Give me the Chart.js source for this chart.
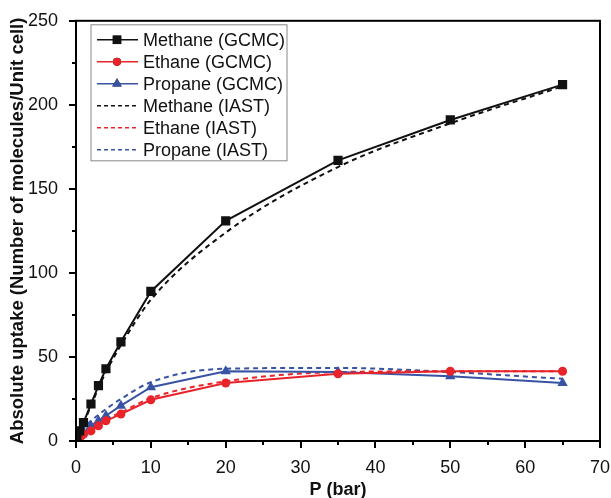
<!DOCTYPE html>
<html>
<head>
<meta charset="utf-8">
<script src="https://cdn.jsdelivr.net/npm/chart.js@4/dist/chart.umd.min.js"></script>
<style>
  html, body { margin: 0; padding: 0; background: #fff; }
  #wrap { width: 611px; height: 498px; }
</style>
</head>
<body>
<div id="wrap"><canvas id="chart"></canvas></div>
<script>
const pressure = [0.1, 0.5, 1, 2, 3, 4, 6, 10, 20, 35, 50, 65];
const methaneGcmc = [1, 6, 11, 22, 33, 43, 59, 89, 131, 167, 191, 212];
const ethaneGcmc = [0.5, 2, 4, 6, 9, 12, 16, 24.5, 34.5, 40, 41.5, 41.5];
const propaneGcmc = [1, 3, 5, 9, 12, 15, 21, 32, 41.5, 41, 38.5, 34.5];
const methaneIast = [1, 5.5, 10.5, 21, 31.5, 41, 57, 84, 124, 163, 189, 211];
const ethaneIast = [0.6, 2.5, 4.5, 7, 10, 13, 17, 25.5, 35.5, 41, 41.5, 41.5];
const propaneIast = [1.5, 4, 7, 12, 15.5, 19, 25, 35, 43, 43.5, 41, 37];
const seriesNames = ['Methane (GCMC)', 'Ethane (GCMC)', 'Propane (GCMC)',
                     'Methane (IAST)', 'Ethane (IAST)', 'Propane (IAST)'];

const BLACK = '#111', RED = '#e8242a', BLUE = '#3953a4';
const FONT = '"Liberation Sans", Arial, sans-serif';
const pts = ys => pressure.map((x, i) => ({ x: x, y: ys[i] }));

function solid(label, ys, color, shape, r) {
  return { label, data: pts(ys), borderColor: color, backgroundColor: color, order: 0,
    borderWidth: 2, pointStyle: shape, pointRadius: r, pointBorderWidth: 0, tension: 0 };
}
function dashed(label, ys, color) {
  return { label, data: pts(ys), borderColor: color, backgroundColor: color, order: 1,
    borderWidth: 2, borderDash: [5, 4], pointRadius: 0, cubicInterpolationMode: 'monotone' };
}

// frame, outward ticks (major + minor) and inset legend
const decor = {
  id: 'decor',
  afterDraw(chart) {
    const c = chart.ctx, a = chart.chartArea;
    const xs = chart.scales.x, ys = chart.scales.y;
    c.save();
    c.strokeStyle = '#000';
    c.lineWidth = 2;
    c.strokeRect(a.left, a.top, a.right - a.left, a.bottom - a.top);
    c.beginPath();
    for (let v = 0; v <= 70; v += 5) {
      const px = Math.round(xs.getPixelForValue(v));
      c.moveTo(px, a.bottom); c.lineTo(px, a.bottom + (v % 10 === 0 ? 7 : 4));
    }
    for (let v = 0; v <= 250; v += 25) {
      const py = Math.round(ys.getPixelForValue(v));
      c.moveTo(a.left, py); c.lineTo(a.left - (v % 50 === 0 ? 7 : 4), py);
    }
    c.stroke();

    // legend
    const lx = a.left + 15, ly = a.top + 4;
    c.lineWidth = 1;
    c.strokeStyle = '#888';
    c.strokeRect(lx, ly, 196, 136);
    c.font = '18px ' + FONT;
    c.textBaseline = 'middle';
    chart.data.datasets.forEach((ds, i) => {
      const y = ly + 15 + i * 22;
      c.strokeStyle = ds.borderColor;
      c.lineWidth = 1.5;
      c.setLineDash(ds.borderDash ? [4, 3] : []);
      c.beginPath(); c.moveTo(lx + 6, y); c.lineTo(lx + 47, y); c.stroke();
      c.setLineDash([]);
      if (ds.pointRadius) {
        Chart.helpers.drawPoint(c, { pointStyle: ds.pointStyle, radius: ds.pointRadius - 0.5,
          borderWidth: 0 }, lx + 26, y);
        c.fillStyle = ds.borderColor;
        c.fill();
      }
      c.fillStyle = '#111';
      c.fillText(ds.label, lx + 52, y + 1);
    });
    c.restore();
  }
};

new Chart(document.getElementById('chart'), {
  type: 'line',
  data: {
    datasets: [
      solid(seriesNames[0], methaneGcmc, BLACK, 'rect', 6.5),
      solid(seriesNames[1], ethaneGcmc, RED, 'circle', 4.5),
      solid(seriesNames[2], propaneGcmc, BLUE, 'triangle', 6),
      dashed(seriesNames[3], methaneIast, BLACK),
      dashed(seriesNames[4], ethaneIast, RED),
      dashed(seriesNames[5], propaneIast, BLUE)
    ]
  },
  options: {
    responsive: true,
    maintainAspectRatio: false,
    animation: false,
    layout: { padding: { top: 18, right: 0, left: 0, bottom: 0 } },
    plugins: { legend: { display: false }, tooltip: { enabled: false } },
    scales: {
      x: {
        type: 'linear', min: 0, max: 70,
        grid: { display: false },
        border: { display: false },
        afterFit: s => { s.height = 57; s.paddingRight = 11; },
        ticks: { stepSize: 10, padding: 8, color: '#111', maxRotation: 0,
          font: { size: 18, family: FONT } },
        title: { display: true, text: 'P (bar)', color: '#111', padding: { top: 0, bottom: -3 },
          font: { size: 18, weight: 'bold', family: FONT } }
      },
      y: {
        type: 'linear', min: 0, max: 250,
        grid: { display: false },
        border: { display: false },
        afterFit: s => { s.width = 76; },
        ticks: { stepSize: 50, padding: 10, color: '#111',
          font: { size: 18, family: FONT } },
        title: { display: true, text: 'Absolute uptake (Number of molecules/Unit cell)', color: '#111',
          padding: { top: 7, bottom: 0 },
          font: { size: 18.5, weight: 'bold', family: FONT } }
      }
    }
  },
  plugins: [decor]
});
</script>
</body>
</html>
